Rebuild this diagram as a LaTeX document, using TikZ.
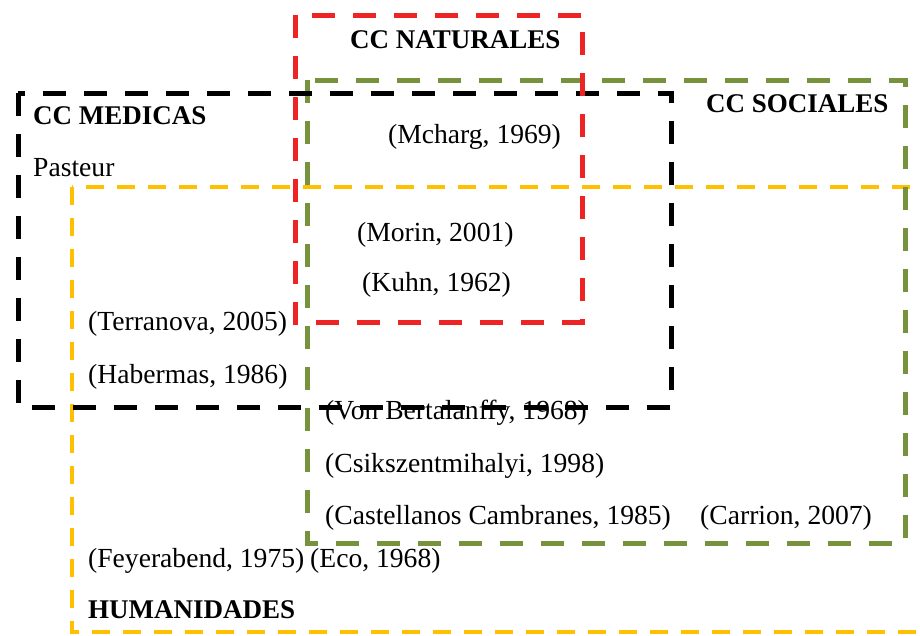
\documentclass[tikz,border=0pt]{standalone}
\usepackage{fontspec}
\setmainfont{Liberation Serif}
\usetikzlibrary{calc}
\definecolor{natred}{RGB}{238,36,36}
\definecolor{socgreen}{RGB}{118,146,60}
\definecolor{humyellow}{RGB}{255,192,0}

\begin{document}
\begin{tikzpicture}[x=1pt, y=-1pt, font=\fontsize{27.6}{32}\selectfont,
  ref/.style={anchor=west, inner sep=0pt},
  area/.style={anchor=west, inner sep=0pt, font=\fontsize{27}{32}\selectfont\bfseries},
  frame/.style={line width=5pt, dash pattern=on 23pt off 18pt},
  thinframe/.style={line width=4pt, dash pattern=on 18pt off 13pt}]

\clip (0,0) rectangle (920,635);

% areas
\node[area] at (350, 40) (nat) {CC NATURALES};
\node[area] at (33, 116) (med) {CC MEDICAS};
\node[area] at (706, 104) (soc) {CC SOCIALES};
\node[area] at (88, 610) (hum) {HUMANIDADES};

% authors
\node[ref] at (33, 168) (pasteur) {Pasteur};
\node[ref] at (388, 137) (mcharg) {(Mcharg, 1969)};
\node[ref] at (357, 235) (morin) {(Morin, 2001)};
\node[ref] at (362, 285) (kuhn) {(Kuhn, 1962)};
\node[ref] at (88, 324) (terranova) {(Terranova, 2005)};
\node[ref] at (88, 377) (habermas) {(Habermas, 1986)};
\node[ref] at (325, 413) (bertalanffy) {(Von Bertalanffy, 1968)};
\node[ref] at (325, 466) (csiks) {(Csikszentmihalyi, 1998)};
\node[ref] at (325, 518) (castellanos) {(Castellanos Cambranes, 1985)};
\node[ref] at (700, 518) (carrion) {(Carrion, 2007)};
\node[ref] at (88, 561) (feyerabend) {(Feyerabend, 1975)};
\node[ref] at (310, 561) (eco) {(Eco, 1968)};

% frames
\draw[thinframe, humyellow] (72,187) rectangle (945,632);
\draw[frame, socgreen] (307,80) rectangle (905,543);
\draw[frame, black] (18,93) rectangle (671,407);
\draw[frame, natred] (295,15) rectangle (582,322);
\end{tikzpicture}
\end{document}
